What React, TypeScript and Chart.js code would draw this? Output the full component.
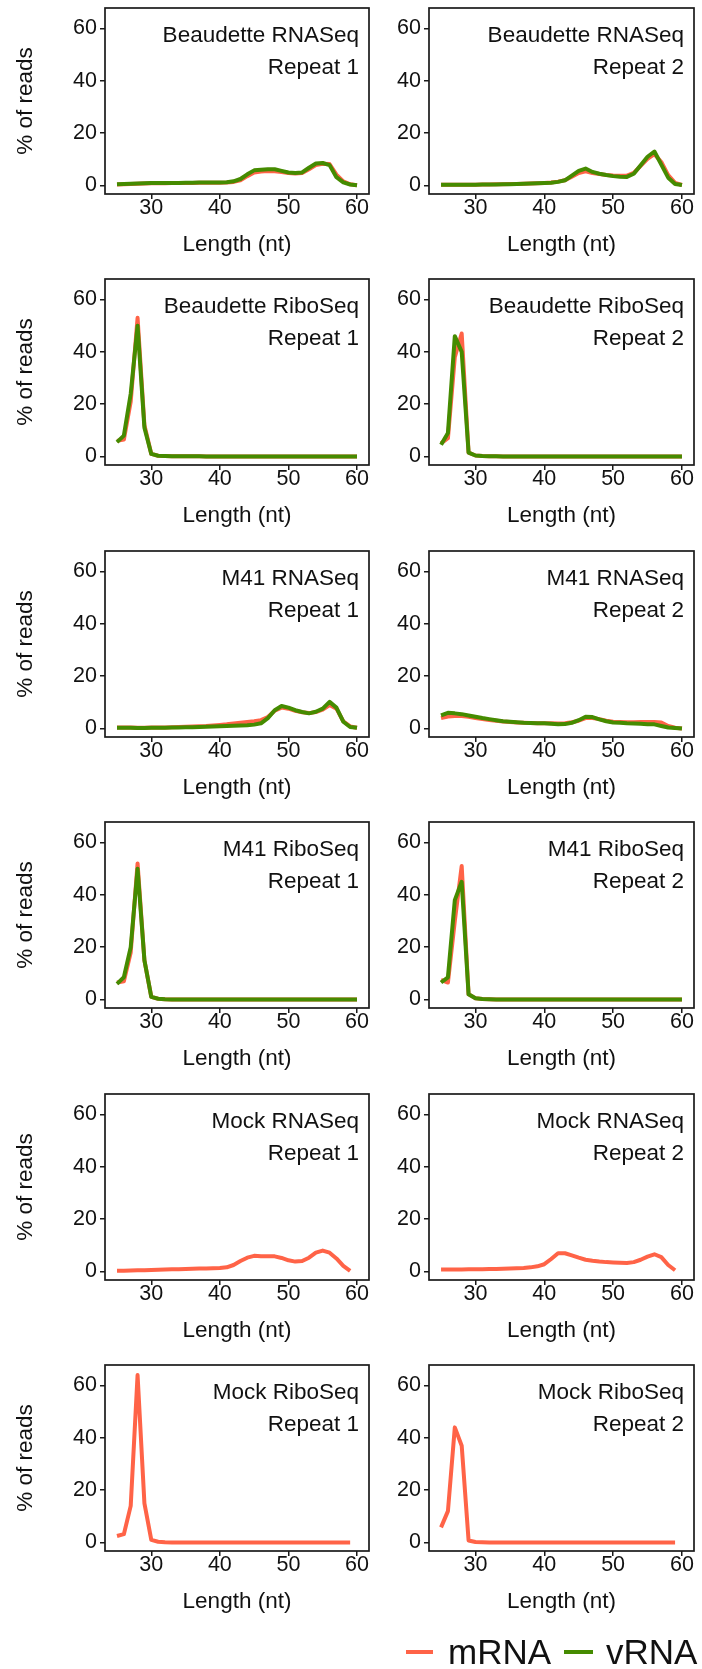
import React, { useEffect, useRef } from "react";
import { Chart, registerables } from "chart.js";
Chart.register(...registerables);

// ---------- data ----------
const lengths = [25, 26, 27, 28, 29, 30, 31, 32, 33, 34, 35, 36, 37, 38, 39, 40, 41, 42, 43, 44, 45, 46, 47, 48, 49, 50, 51, 52, 53, 54, 55, 56, 57, 58, 59, 60];
const lengthsMock = [25, 26, 27, 28, 29, 30, 31, 32, 33, 34, 35, 36, 37, 38, 39, 40, 41, 42, 43, 44, 45, 46, 47, 48, 49, 50, 51, 52, 53, 54, 55, 56, 57, 58, 59];
const xTicks = [30, 40, 50, 60];
const yTicks = [0, 20, 40, 60];

const beaRnaR1_vRNA = [0.5, 0.6, 0.7, 0.8, 0.9, 1.0, 1.0, 1.0, 1.0, 1.0, 1.1, 1.1, 1.2, 1.2, 1.2, 1.2, 1.3, 1.6, 2.5, 4.3, 5.8, 6.0, 6.2, 6.2, 5.6, 5.0, 4.8, 5.0, 6.8, 8.4, 8.6, 7.8, 3.2, 1.2, 0.4, 0.1];
const beaRnaR1_mRNA = [0.4, 0.5, 0.6, 0.7, 0.8, 0.9, 0.9, 0.9, 1.0, 1.0, 1.0, 1.0, 1.1, 1.1, 1.1, 1.1, 1.2, 1.4, 2.0, 3.6, 5.0, 5.4, 5.6, 5.5, 5.2, 4.8, 4.6, 4.8, 6.2, 7.8, 8.3, 8.2, 4.2, 1.6, 0.5, 0.1];

const beaRnaR2_vRNA = [0.3, 0.3, 0.3, 0.3, 0.3, 0.3, 0.4, 0.4, 0.4, 0.5, 0.5, 0.6, 0.7, 0.8, 0.9, 1.0, 1.1, 1.4, 2.0, 3.8, 5.6, 6.5, 5.2, 4.5, 4.0, 3.6, 3.4, 3.3, 4.5, 7.8, 11.0, 13.0, 8.0, 3.0, 0.6, 0.2];
const beaRnaR2_mRNA = [0.3, 0.3, 0.3, 0.3, 0.3, 0.3, 0.4, 0.4, 0.5, 0.5, 0.6, 0.6, 0.7, 0.8, 0.9, 1.0, 1.2, 1.5, 2.0, 3.4, 4.8, 5.4, 4.8, 4.4, 4.0, 3.8, 3.7, 3.8, 4.8, 7.5, 10.2, 12.0, 9.0, 4.0, 1.0, 0.2];

const beaRiboR1_vRNA = [5.5, 8.0, 24, 50, 11, 1.0, 0.3, 0.2, 0.1, 0.1, 0.1, 0.1, 0.1, 0.05, 0.05, 0.05, 0.05, 0.05, 0.05, 0.05, 0.05, 0.05, 0.05, 0.05, 0.05, 0.05, 0.05, 0.05, 0.05, 0.05, 0.05, 0.05, 0.05, 0.05, 0.05, 0.05];
const beaRiboR1_mRNA = [6.0, 6.5, 21, 53, 12, 1.0, 0.3, 0.2, 0.1, 0.1, 0.1, 0.1, 0.1, 0.05, 0.05, 0.05, 0.05, 0.05, 0.05, 0.05, 0.05, 0.05, 0.05, 0.05, 0.05, 0.05, 0.05, 0.05, 0.05, 0.05, 0.05, 0.05, 0.05, 0.05, 0.05, 0.05];

const beaRiboR2_vRNA = [4.5, 9.0, 46, 40, 1.5, 0.4, 0.2, 0.1, 0.1, 0.05, 0.05, 0.05, 0.05, 0.05, 0.05, 0.05, 0.05, 0.05, 0.05, 0.05, 0.05, 0.05, 0.05, 0.05, 0.05, 0.05, 0.05, 0.05, 0.05, 0.05, 0.05, 0.05, 0.05, 0.05, 0.05, 0.05];
const beaRiboR2_mRNA = [5.0, 7.0, 38, 47, 1.5, 0.4, 0.2, 0.1, 0.1, 0.05, 0.05, 0.05, 0.05, 0.05, 0.05, 0.05, 0.05, 0.05, 0.05, 0.05, 0.05, 0.05, 0.05, 0.05, 0.05, 0.05, 0.05, 0.05, 0.05, 0.05, 0.05, 0.05, 0.05, 0.05, 0.05, 0.05];

const m41RnaR1_vRNA = [0.3, 0.3, 0.3, 0.2, 0.2, 0.3, 0.3, 0.3, 0.4, 0.4, 0.5, 0.5, 0.6, 0.7, 0.8, 0.9, 1.0, 1.1, 1.2, 1.3, 1.5, 2.0, 4.0, 7.0, 8.6, 8.0, 7.0, 6.3, 5.8, 6.4, 7.6, 10.2, 8.0, 2.6, 0.6, 0.3];
const m41RnaR1_mRNA = [0.4, 0.4, 0.4, 0.3, 0.3, 0.4, 0.4, 0.4, 0.5, 0.6, 0.7, 0.8, 0.9, 1.0, 1.2, 1.4, 1.6, 1.9, 2.2, 2.5, 2.8, 3.2, 4.4, 6.8, 8.0, 7.6, 6.8, 6.2, 5.9, 6.3, 7.2, 9.0, 7.6, 2.8, 0.8, 0.3];

const m41RnaR2_vRNA = [5.0, 6.0, 5.8, 5.5, 5.0, 4.5, 4.0, 3.6, 3.2, 2.8, 2.6, 2.4, 2.2, 2.1, 2.0, 2.0, 1.8, 1.6, 1.7, 2.2, 3.2, 4.5, 4.4, 3.5, 2.8, 2.3, 2.2, 2.0, 1.9, 1.8, 1.6, 1.6, 1.0, 0.4, 0.2, 0.0];
const m41RnaR2_mRNA = [4.0, 4.6, 4.8, 4.8, 4.5, 4.0, 3.6, 3.3, 3.0, 2.7, 2.5, 2.3, 2.2, 2.1, 2.0, 2.0, 2.0, 1.9, 2.0, 2.4, 3.0, 4.0, 4.0, 3.6, 3.0, 2.6, 2.5, 2.4, 2.4, 2.5, 2.5, 2.5, 2.3, 1.0, 0.3, 0.0];

const m41RiboR1_vRNA = [6.0, 8.5, 20, 50, 15, 1.0, 0.3, 0.1, 0.05, 0.05, 0.05, 0.05, 0.05, 0.05, 0.05, 0.05, 0.05, 0.05, 0.05, 0.05, 0.05, 0.05, 0.05, 0.05, 0.05, 0.05, 0.05, 0.05, 0.05, 0.05, 0.05, 0.05, 0.05, 0.05, 0.05, 0.05];
const m41RiboR1_mRNA = [6.5, 7.0, 18, 52, 15, 1.0, 0.3, 0.1, 0.05, 0.05, 0.05, 0.05, 0.05, 0.05, 0.05, 0.05, 0.05, 0.05, 0.05, 0.05, 0.05, 0.05, 0.05, 0.05, 0.05, 0.05, 0.05, 0.05, 0.05, 0.05, 0.05, 0.05, 0.05, 0.05, 0.05, 0.05];

const m41RiboR2_vRNA = [6.5, 8.5, 38, 45, 2.0, 0.5, 0.2, 0.1, 0.05, 0.05, 0.05, 0.05, 0.05, 0.05, 0.05, 0.05, 0.05, 0.05, 0.05, 0.05, 0.05, 0.05, 0.05, 0.05, 0.05, 0.05, 0.05, 0.05, 0.05, 0.05, 0.05, 0.05, 0.05, 0.05, 0.05, 0.05];
const m41RiboR2_mRNA = [7.5, 6.5, 30, 51, 2.0, 0.5, 0.2, 0.1, 0.05, 0.05, 0.05, 0.05, 0.05, 0.05, 0.05, 0.05, 0.05, 0.05, 0.05, 0.05, 0.05, 0.05, 0.05, 0.05, 0.05, 0.05, 0.05, 0.05, 0.05, 0.05, 0.05, 0.05, 0.05, 0.05, 0.05, 0.05];

const mockRnaR1_mRNA = [0.3, 0.35, 0.4, 0.45, 0.5, 0.6, 0.7, 0.8, 0.85, 0.9, 1.0, 1.1, 1.15, 1.2, 1.3, 1.4, 1.6, 2.5, 4.0, 5.3, 6.0, 5.8, 5.8, 5.8, 5.2, 4.3, 3.8, 4.0, 5.3, 7.2, 8.0, 7.2, 5.0, 2.2, 0.3];
const mockRnaR2_mRNA = [0.8, 0.8, 0.8, 0.8, 0.85, 0.9, 0.9, 0.95, 1.0, 1.1, 1.2, 1.3, 1.4, 1.6, 2.0, 2.8, 4.8, 7.0, 7.0, 6.2, 5.3, 4.5, 4.1, 3.8, 3.6, 3.5, 3.4, 3.3, 3.6, 4.5, 5.7, 6.6, 5.5, 2.5, 0.5];
const mockRiboR1_mRNA = [2.5, 3.2, 14, 64, 15, 1.0, 0.3, 0.1, 0.05, 0.05, 0.05, 0.05, 0.05, 0.05, 0.05, 0.05, 0.05, 0.05, 0.05, 0.05, 0.05, 0.05, 0.05, 0.05, 0.05, 0.05, 0.05, 0.05, 0.05, 0.05, 0.05, 0.05, 0.05, 0.05, 0.05];
const mockRiboR2_mRNA = [5.8, 12, 44, 37, 0.8, 0.2, 0.1, 0.05, 0.05, 0.05, 0.05, 0.05, 0.05, 0.05, 0.05, 0.05, 0.05, 0.05, 0.05, 0.05, 0.05, 0.05, 0.05, 0.05, 0.05, 0.05, 0.05, 0.05, 0.05, 0.05, 0.05, 0.05, 0.05, 0.05, 0.05];

type PanelSpec = {
  name: string;
  repeat: string;
  x: number[];
  mRNA: number[];
  vRNA: number[] | null;
};

const panels: PanelSpec[] = [
  { name: "Beaudette RNASeq", repeat: "Repeat 1", x: lengths, mRNA: beaRnaR1_mRNA, vRNA: beaRnaR1_vRNA },
  { name: "Beaudette RNASeq", repeat: "Repeat 2", x: lengths, mRNA: beaRnaR2_mRNA, vRNA: beaRnaR2_vRNA },
  { name: "Beaudette RiboSeq", repeat: "Repeat 1", x: lengths, mRNA: beaRiboR1_mRNA, vRNA: beaRiboR1_vRNA },
  { name: "Beaudette RiboSeq", repeat: "Repeat 2", x: lengths, mRNA: beaRiboR2_mRNA, vRNA: beaRiboR2_vRNA },
  { name: "M41 RNASeq", repeat: "Repeat 1", x: lengths, mRNA: m41RnaR1_mRNA, vRNA: m41RnaR1_vRNA },
  { name: "M41 RNASeq", repeat: "Repeat 2", x: lengths, mRNA: m41RnaR2_mRNA, vRNA: m41RnaR2_vRNA },
  { name: "M41 RiboSeq", repeat: "Repeat 1", x: lengths, mRNA: m41RiboR1_mRNA, vRNA: m41RiboR1_vRNA },
  { name: "M41 RiboSeq", repeat: "Repeat 2", x: lengths, mRNA: m41RiboR2_mRNA, vRNA: m41RiboR2_vRNA },
  { name: "Mock RNASeq", repeat: "Repeat 1", x: lengthsMock, mRNA: mockRnaR1_mRNA, vRNA: null },
  { name: "Mock RNASeq", repeat: "Repeat 2", x: lengthsMock, mRNA: mockRnaR2_mRNA, vRNA: null },
  { name: "Mock RiboSeq", repeat: "Repeat 1", x: lengthsMock, mRNA: mockRiboR1_mRNA, vRNA: null },
  { name: "Mock RiboSeq", repeat: "Repeat 2", x: lengthsMock, mRNA: mockRiboR2_mRNA, vRNA: null },
];

// ---------- style ----------
const RED = "#FF6347";
const GREEN = "#458B00";
const INK = "#111111";
const FONT = "'Liberation Sans', Arial, Helvetica, sans-serif";

const BOX_TOPS = [8, 279, 551, 822, 1094, 1365];
const BOX_H = 186;
const PAD_TOP = 8;
const X_AXIS_H = 70;
const CANVAS_H = PAD_TOP + BOX_H + X_AXIS_H;
const COLS = [
  { left: 0, width: 380, yAxisW: 105, padRight: 11 },
  { left: 351, width: 351, yAxisW: 78, padRight: 8 },
];

const framePlugin = {
  id: "frame",
  afterDraw(chart: any) {
    const { ctx, chartArea } = chart;
    const { left, top, right, bottom } = chartArea;
    ctx.save();
    ctx.strokeStyle = "#1a1a1a";
    ctx.lineWidth = 1.7;
    ctx.strokeRect(left, top, right - left, bottom - top);
    ctx.restore();
  },
};

const panelTextPlugin = {
  id: "panelText",
  afterDraw(chart: any, _args: any, opts: any) {
    const { ctx, chartArea } = chart;
    ctx.save();
    ctx.fillStyle = INK;
    ctx.font = `22.5px ${FONT}`;
    ctx.textAlign = "right";
    ctx.textBaseline = "middle";
    const x = chartArea.right - 10;
    ctx.fillText(opts.line1, x, chartArea.top + 28);
    ctx.fillText(opts.line2, x, chartArea.top + 59.5);
    ctx.restore();
  },
};

function Panel({ spec, col, row }: { spec: PanelSpec; col: number; row: number }) {
  const ref = useRef<HTMLCanvasElement | null>(null);
  const c = COLS[col];
  useEffect(() => {
    if (!ref.current) return;
    const common = {
      pointRadius: 0,
      borderWidth: 4,
      borderJoinStyle: "round" as const,
      borderCapStyle: "butt" as const,
      tension: 0,
      fill: false,
    };
    const datasets: any[] = [];
    if (spec.vRNA) {
      const v = spec.vRNA;
      datasets.push({ ...common, label: "vRNA", borderColor: GREEN, data: spec.x.map((x, i) => ({ x, y: v[i] })) });
    }
    datasets.push({ ...common, label: "mRNA", borderColor: RED, data: spec.x.map((x, i) => ({ x, y: spec.mRNA[i] })) });

    const tickFont = { family: FONT, size: 21.5, lineHeight: 1 };
    const titleFont = { family: FONT, size: 22.5, lineHeight: 1.2 };
    const grid = {
      display: true,
      drawOnChartArea: false,
      drawTicks: true,
      tickLength: 5,
      lineWidth: 1.5,
      color: "#1a1a1a",
    };

    const chart = new Chart(ref.current, {
      type: "line",
      data: { datasets },
      options: {
        animation: false,
        responsive: false,
        events: [],
        layout: { padding: { top: PAD_TOP, right: c.padRight, left: 0, bottom: 0 } },
        plugins: {
          legend: { display: false },
          tooltip: { enabled: false },
          // @ts-ignore
          panelText: { line1: spec.name, line2: spec.repeat },
        },
        scales: {
          x: {
            type: "linear",
            min: 23.25,
            max: 61.75,
            afterBuildTicks: (axis: any) => {
              axis.ticks = xTicks.map((v) => ({ value: v }));
            },
            afterFit: (s: any) => {
              s.height = X_AXIS_H;
              s.paddingLeft = 0;
              s.paddingRight = 0;
            },
            grid,
            border: { display: false },
            ticks: { font: tickFont, color: INK, padding: -2, maxRotation: 0, autoSkip: false },
            title: {
              display: true,
              text: "Length (nt)",
              font: titleFont,
              color: INK,
              padding: { top: 0, bottom: 6 },
            },
          },
          y: {
            type: "linear",
            min: -3.23,
            max: 67.83,
            afterBuildTicks: (axis: any) => {
              axis.ticks = yTicks.map((v) => ({ value: v }));
            },
            afterFit: (s: any) => {
              s.width = c.yAxisW;
              s.paddingTop = 0;
              s.paddingBottom = 0;
            },
            grid,
            border: { display: false },
            ticks: { font: tickFont, color: INK, padding: 3, autoSkip: false },
            title: {
              display: col === 0,
              text: "% of reads",
              font: titleFont,
              color: INK,
              padding: { top: 12, bottom: 0 },
            },
          },
        },
      },
      plugins: [framePlugin, panelTextPlugin],
    } as any);
    return () => chart.destroy();
  }, [spec, col, row]);

  return (
    <canvas
      ref={ref}
      width={c.width}
      height={CANVAS_H}
      style={{
        position: "absolute",
        left: c.left,
        top: BOX_TOPS[row] - PAD_TOP,
        width: c.width,
        height: CANVAS_H,
        display: "block",
      }}
    />
  );
}

export default function App() {
  return (
    <div style={{ position: "absolute", left: 0, top: 0, width: 702, height: 1669, background: "#fff", overflow: "hidden" }}>
      {panels.map((p, i) => (
        <Panel key={i} spec={p} col={i % 2} row={Math.floor(i / 2)} />
      ))}
      <div style={{ position: "absolute", left: 406, top: 1650, width: 27, height: 4, background: RED }} />
      <div style={{ position: "absolute", left: 448, top: 1631, height: 42, lineHeight: "42px", fontFamily: FONT, fontSize: 35, color: INK, whiteSpace: "nowrap" }}>mRNA</div>
      <div style={{ position: "absolute", left: 564, top: 1650, width: 29, height: 4, background: GREEN }} />
      <div style={{ position: "absolute", left: 606, top: 1631, height: 42, lineHeight: "42px", fontFamily: FONT, fontSize: 35, color: INK, whiteSpace: "nowrap" }}>vRNA</div>
    </div>
  );
}
